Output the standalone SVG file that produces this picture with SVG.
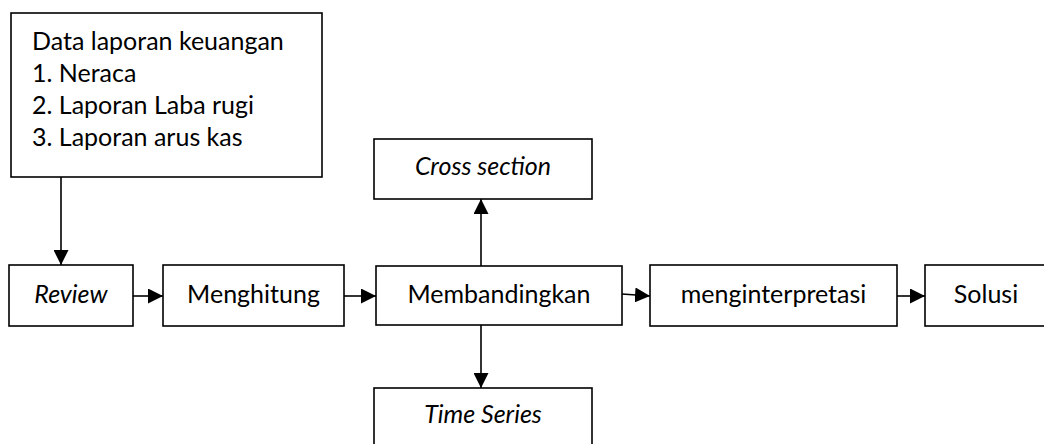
<svg xmlns="http://www.w3.org/2000/svg" width="1044" height="444" viewBox="0 0 1044 444">
<style>
.box{fill:#fff;stroke:#000;stroke-width:1.6}
.t{font-family:Lato,"Open Sans","Liberation Sans",sans-serif;font-size:25px;fill:#000}
.c{text-anchor:middle}
.i{font-style:italic}
.ln{stroke:#000;stroke-width:1.6;fill:none}
</style>
<defs>
<marker id="ah" markerWidth="15" markerHeight="15" refX="15" refY="7.5" orient="auto" markerUnits="userSpaceOnUse">
<path d="M0,0 L15,7.5 L0,15 Z" fill="#000"/>
</marker>
</defs>
<rect width="1044" height="444" fill="#fff"/>
<g id="connectors">
<line class="ln" x1="61" y1="177" x2="61" y2="265" marker-end="url(#ah)"/>
<line class="ln" x1="133" y1="296" x2="163" y2="296" marker-end="url(#ah)"/>
<line class="ln" x1="344" y1="296" x2="376" y2="296" marker-end="url(#ah)"/>
<line class="ln" x1="622" y1="294" x2="650" y2="296" marker-end="url(#ah)"/>
<line class="ln" x1="897" y1="296" x2="925" y2="296" marker-end="url(#ah)"/>
<line class="ln" x1="481" y1="266" x2="481" y2="199" marker-end="url(#ah)"/>
<line class="ln" x1="481" y1="325" x2="481" y2="388" marker-end="url(#ah)"/>
</g>
<g id="data">
<rect class="box" x="11" y="13" width="311" height="164"/>
<text class="t" x="32" y="50">Data laporan keuangan</text>
<text class="t" x="32" y="82">1. Neraca</text>
<text class="t" x="32" y="114">2. Laporan Laba rugi</text>
<text class="t" x="32" y="146">3. Laporan arus kas</text>
</g>
<g id="review">
<rect class="box" x="9" y="265" width="124" height="61"/>
<text class="t c i" x="71" y="303">Review</text>
</g>
<g id="menghitung">
<rect class="box" x="163" y="265" width="181" height="61"/>
<text class="t c" x="253.5" y="303">Menghitung</text>
</g>
<g id="membandingkan">
<rect class="box" x="376" y="266" width="246" height="59"/>
<text class="t c" x="499" y="303">Membandingkan</text>
</g>
<g id="cross-section">
<rect class="box" x="374" y="139" width="218" height="60"/>
<text class="t c i" x="483" y="175">Cross section</text>
</g>
<g id="time-series">
<rect class="box" x="374" y="388" width="218" height="62"/>
<text class="t c i" x="483" y="423">Time Series</text>
</g>
<g id="menginterpretasi">
<rect class="box" x="650" y="265" width="247" height="61"/>
<text class="t c" x="773.5" y="303">menginterpretasi</text>
</g>
<g id="solusi">
<rect class="box" x="925" y="265" width="122" height="61"/>
<text class="t c" x="986" y="303">Solusi</text>
</g>
</svg>
